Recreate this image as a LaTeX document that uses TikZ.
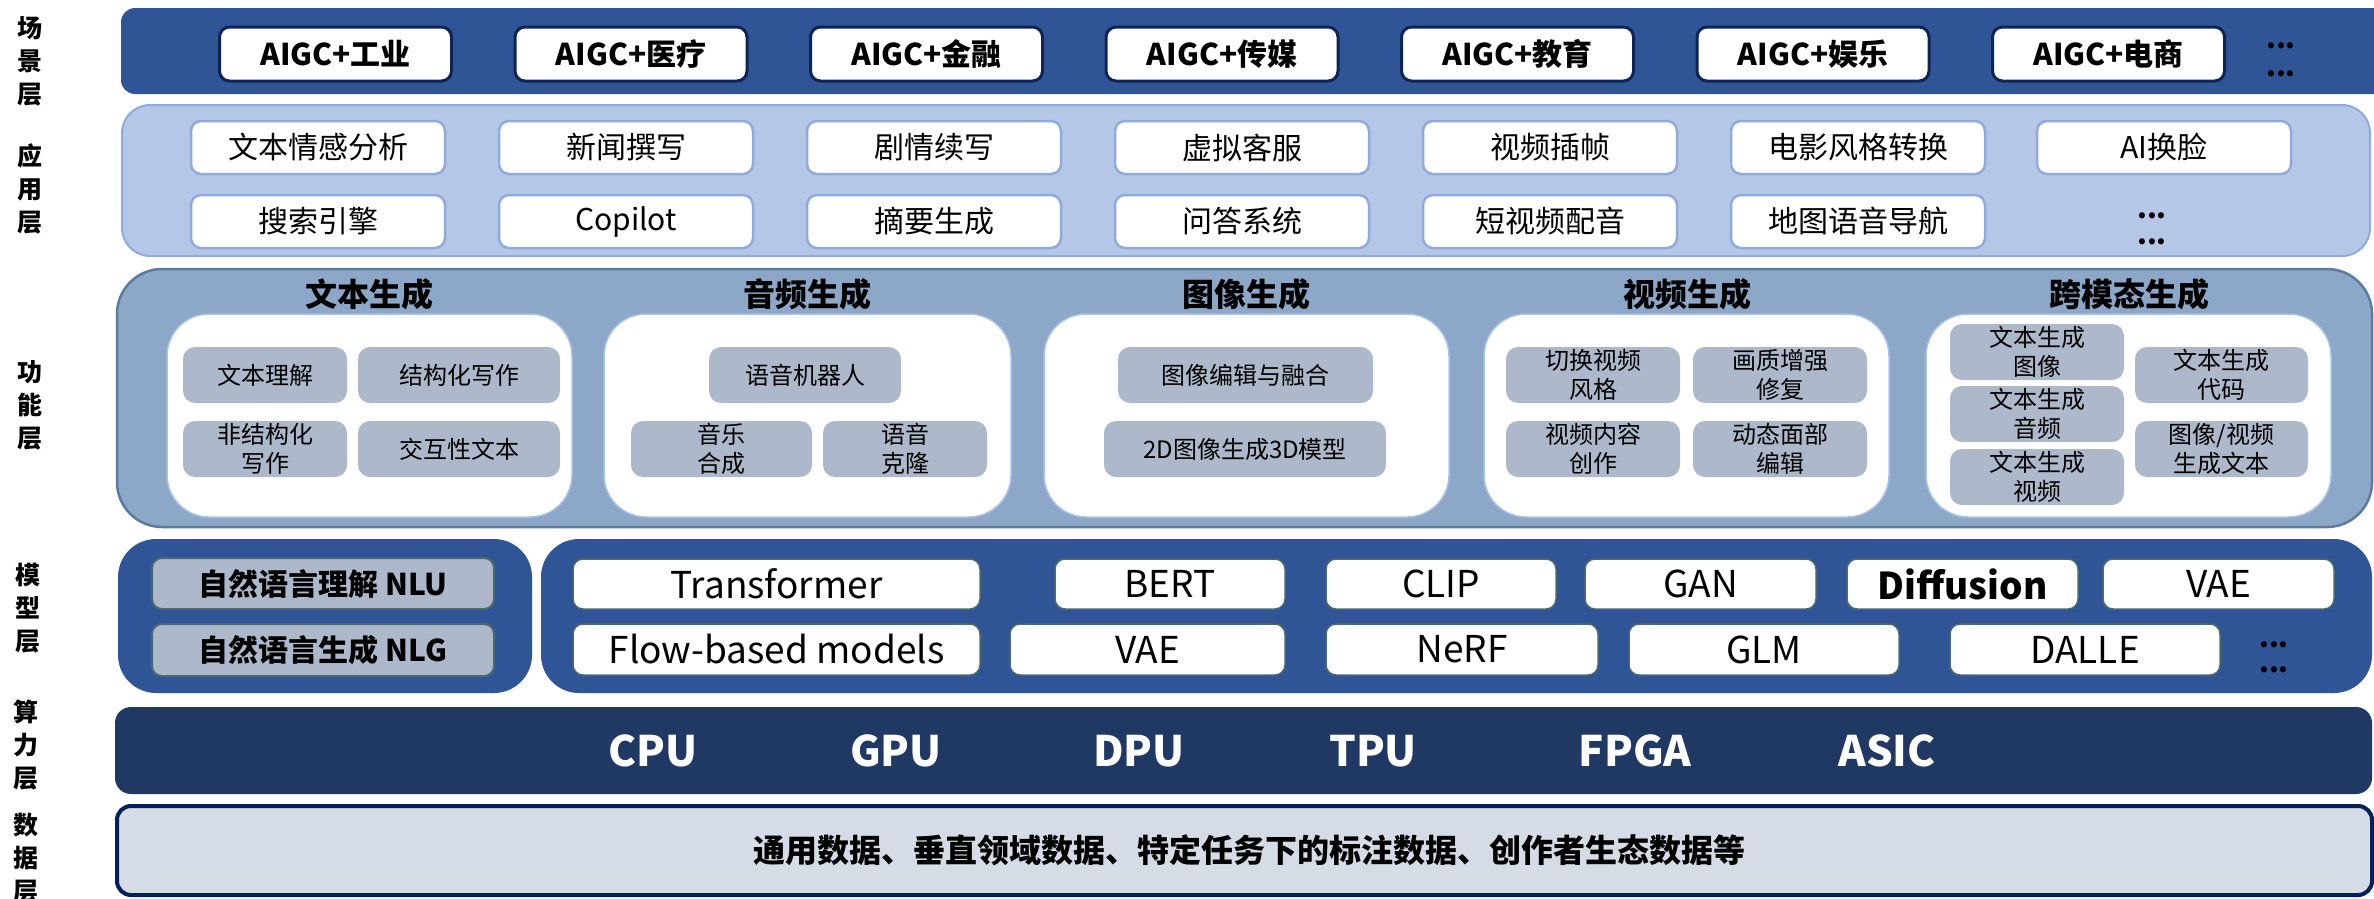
\documentclass[tikz,border=0pt]{standalone}
\usepackage{fontspec}
\setmainfont{Noto Sans CJK SC}
\definecolor{scenebg}{HTML}{2F5597}
\definecolor{sceneedge}{HTML}{0E2454}
\definecolor{appbg}{HTML}{B4C7E7}
\definecolor{appedge}{HTML}{8FAADC}
\definecolor{funbg}{HTML}{8CA7C7}
\definecolor{funedge}{HTML}{5B7BA0}
\definecolor{panedge}{HTML}{A8C2EA}
\definecolor{cell}{HTML}{ADB9CA}
\definecolor{modbg}{HTML}{2F5597}
\definecolor{modedge}{HTML}{4A6A6E}
\definecolor{cpubg}{HTML}{203864}
\definecolor{databg}{HTML}{D6DCE5}
\definecolor{dataedge}{HTML}{002060}
\newcommand\fs[2]{\fontsize{#1}{#2}\selectfont}
% box from corner (x1,y1) to corner (x2,y2): name, style, x1, y1, x2, y2, text
\newcommand\blk[7]{\node[#2, minimum width={#5-#3}, minimum height={#6-#4}] (#1) at ({(#3+#5)/2},{(#4+#6)/2}) {#7};}
\begin{document}
\begin{tikzpicture}[x=1pt,y=-1pt,
  every node/.style={inner sep=0pt, outer sep=0pt, align=center},
  layername/.style={font=\fs{25}{33}\bfseries},
  scenebox/.style={draw=sceneedge, line width=3pt, fill=white, rounded corners=10pt, font=\fs{30}{36}\bfseries},
  appbox/.style={draw=appedge, line width=2.5pt, fill=white, rounded corners=10pt, font=\fs{30}{36}},
  panel/.style={draw=panedge, line width=1.5pt, fill=white, rounded corners=42pt},
  cellbox/.style={fill=cell, rounded corners=12pt, font=\fs{24}{29}},
  ftitle/.style={font=\fs{32}{37}\bfseries},
  nlbox/.style={draw=modedge, line width=2pt, fill=cell, rounded corners=10pt, font=\fs{30}{36}\bfseries},
  modbox/.style={draw=modedge, line width=1.5pt, fill=white, rounded corners=10pt, font=\fs{37}{42}},
  hw/.style={text=white, font=\fs{42}{48}\bfseries},
  more/.style={font=\fs{28}{#1}\bfseries}
]
\useasboundingbox (0,0) rectangle (2374,898);
\clip (0,0) rectangle (2374,898);

% layer names on the left
\node[layername] (l1) at (30,61)  {场\\景\\层};
\node[layername] (l2) at (30,189) {应\\用\\层};
\node[layername] (l3) at (30,405) {功\\能\\层};
\node[layername] (l4) at (28,608) {模\\型\\层};
\node[layername] (l5) at (26,745) {算\\力\\层};
\node[layername] (l6) at (26,858) {数\\据\\层};

% scene layer
\fill[scenebg, rounded corners=14pt] (121,8) rectangle (2390,94);
\blk{s1}{scenebox}{219.5}{27}{451.5}{81}{AIGC+工业}
\blk{s2}{scenebox}{515}{27}{747}{81}{AIGC+医疗}
\blk{s3}{scenebox}{810.5}{27}{1042.5}{81}{AIGC+金融}
\blk{s4}{scenebox}{1106}{27}{1338}{81}{AIGC+传媒}
\blk{s5}{scenebox}{1401.5}{27}{1633.5}{81}{AIGC+教育}
\blk{s6}{scenebox}{1697}{27}{1929}{81}{AIGC+娱乐}
\blk{s7}{scenebox}{1992.5}{27}{2224.5}{81}{AIGC+电商}
\node[more=28] (smore) at (2281,60) {...\\...};

% application layer
\filldraw[fill=appbg, draw=appedge, line width=2pt, rounded corners=28pt] (122,105) rectangle (2370,256);
\blk{a1}{appbox}{191}{121}{445}{174}{文本情感分析}
\blk{a2}{appbox}{499}{121}{753}{174}{新闻撰写}
\blk{a3}{appbox}{807}{121}{1061}{174}{剧情续写}
\blk{a4}{appbox}{1115}{121}{1369}{174}{虚拟客服}
\blk{a5}{appbox}{1423}{121}{1677}{174}{视频插帧}
\blk{a6}{appbox}{1731}{121}{1985}{174}{电影风格转换}
\blk{a7}{appbox}{2037}{121}{2291}{174}{AI换脸}
\blk{b1}{appbox}{191}{195}{445}{248}{搜索引擎}
\blk{b2}{appbox}{499}{195}{753}{248}{Copilot}
\blk{b3}{appbox}{807}{195}{1061}{248}{摘要生成}
\blk{b4}{appbox}{1115}{195}{1369}{248}{问答系统}
\blk{b5}{appbox}{1423}{195}{1677}{248}{短视频配音}
\blk{b6}{appbox}{1731}{195}{1985}{248}{地图语音导航}
\node[more=26] (amore) at (2152,229) {...\\...};

% function layer
\filldraw[fill=funbg, draw=funedge, line width=2.5pt, rounded corners=45pt] (117,269) rectangle (2372,527);
\node[ftitle] (t1) at (369,294)  {文本生成};
\node[ftitle] (t2) at (807,294)  {音频生成};
\node[ftitle] (t3) at (1246,294) {图像生成};
\node[ftitle] (t4) at (1687,294) {视频生成};
\node[ftitle] (t5) at (2129,294) {跨模态生成};
\blk{p1}{panel}{167}{314}{572}{517}{}
\blk{p2}{panel}{604}{314}{1011}{517}{}
\blk{p3}{panel}{1044}{314}{1449}{517}{}
\blk{p4}{panel}{1484}{314}{1889}{517}{}
\blk{p5}{panel}{1926}{314}{2331}{517}{}
% text generation
\blk{c11}{cellbox}{183}{347}{347}{403}{文本理解}
\blk{c12}{cellbox}{358}{347}{560}{403}{结构化写作}
\blk{c13}{cellbox}{183}{421}{347}{477}{非结构化\\写作}
\blk{c14}{cellbox}{358}{421}{560}{477}{交互性文本}
% audio generation
\blk{c21}{cellbox}{709}{347}{901}{403}{语音机器人}
\blk{c22}{cellbox}{631}{421}{812}{477}{音乐\\合成}
\blk{c23}{cellbox}{823}{421}{987}{477}{语音\\克隆}
% image generation
\blk{c31}{cellbox}{1118}{347}{1373}{403}{图像编辑与融合}
\blk{c32}{cellbox}{1104}{421}{1386}{477}{2D图像生成3D模型}
% video generation
\blk{c41}{cellbox}{1506}{347}{1680}{403}{切换视频\\风格}
\blk{c42}{cellbox}{1693}{347}{1867}{403}{画质增强\\修复}
\blk{c43}{cellbox}{1506}{421}{1680}{477}{视频内容\\创作}
\blk{c44}{cellbox}{1693}{421}{1867}{477}{动态面部\\编辑}
% cross-modal generation
\blk{c51}{cellbox}{1950}{324}{2124}{380}{文本生成\\图像}
\blk{c52}{cellbox}{1950}{386}{2124}{442}{文本生成\\音频}
\blk{c53}{cellbox}{1950}{449}{2124}{505}{文本生成\\视频}
\blk{c54}{cellbox}{2135}{347}{2308}{403}{文本生成\\代码}
\blk{c55}{cellbox}{2135}{421}{2308}{477}{图像/视频\\生成文本}

% model layer
\fill[modbg, rounded corners=38pt] (118,539) rectangle (532,693);
\fill[modbg, rounded corners=38pt] (541,539) rectangle (2372,693);
\blk{nlu}{nlbox}{152}{558}{494}{609}{自然语言理解 NLU}
\blk{nlg}{nlbox}{152}{624}{494}{676}{自然语言生成 NLG}
\blk{m1}{modbox}{573}{559}{980}{609}{Transformer}
\blk{m2}{modbox}{1055}{559}{1285}{609}{BERT}
\blk{m3}{modbox}{1326}{559}{1556}{609}{CLIP}
\blk{m4}{modbox}{1585}{559}{1816}{609}{GAN}
\blk{m5}{modbox, font=\fs{37}{42}\bfseries}{1847}{559}{2078}{609}{Diffusion}
\blk{m6}{modbox}{2103}{559}{2334}{609}{VAE}
\blk{n1}{modbox}{573}{624}{980}{675}{Flow-based models}
\blk{n2}{modbox}{1010}{624}{1285}{675}{VAE}
\blk{n3}{modbox}{1326}{624}{1598}{675}{NeRF}
\blk{n4}{modbox}{1629}{624}{1899}{675}{GLM}
\blk{n5}{modbox}{1950}{624}{2220}{675}{DALLE}
\node[more=25] (mmore) at (2274,657) {...\\...};

% compute layer
\fill[cpubg, rounded corners=16pt] (115,707) rectangle (2372,794);
\node[hw] (h1) at (653,751)  {CPU};
\node[hw] (h2) at (896,751)  {GPU};
\node[hw] (h3) at (1139,751) {DPU};
\node[hw] (h4) at (1373,751) {TPU};
\node[hw] (h5) at (1635,751) {FPGA};
\node[hw] (h6) at (1887,751) {ASIC};

% data layer
\filldraw[fill=databg, draw=dataedge, line width=4pt, rounded corners=14pt] (117,806) rectangle (2372,895);
\node[font=\fs{32}{38}\bfseries] (d1) at (1249,850) {通用数据、垂直领域数据、特定任务下的标注数据、创作者生态数据等};
\end{tikzpicture}
\end{document}
